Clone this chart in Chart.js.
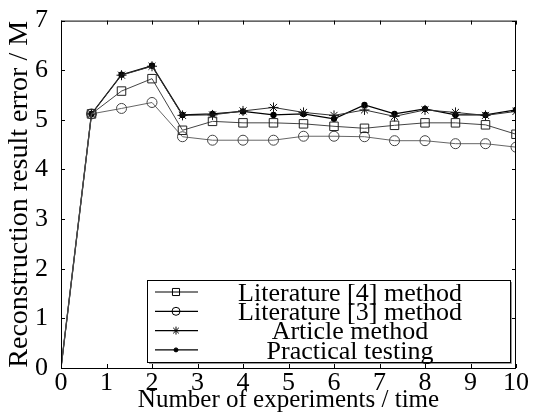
<!DOCTYPE html>
<html>
<head>
<meta charset="utf-8">
<script src="https://cdn.jsdelivr.net/npm/chart.js@4.4.1/dist/chart.umd.min.js"></script>
<style>
  html, body { margin: 0; padding: 0; background: #fff; }
  #wrap { width: 535px; height: 415px; }
</style>
</head>
<body>
<div id="wrap"><canvas id="chart" width="535" height="415"></canvas></div>
<script>
// experiment index (x) and reconstruction error values (y)
var xValues = [0, 0.67, 1.33, 2, 2.67, 3.33, 4, 4.67, 5.33, 6, 6.67, 7.33, 8, 8.67, 9.33, 10];
var lit4 = [0, 5.12, 5.58, 5.83, 4.79, 4.97, 4.94, 4.94, 4.92, 4.87, 4.83, 4.89, 4.94, 4.94, 4.90, 4.71];
var lit3 = [0, 5.12, 5.23, 5.35, 4.66, 4.59, 4.59, 4.59, 4.67, 4.67, 4.66, 4.58, 4.58, 4.52, 4.52, 4.45];
var article = [0, 5.12, 5.90, 6.08, 5.09, 5.10, 5.18, 5.25, 5.15, 5.09, 5.20, 5.07, 5.20, 5.15, 5.09, 5.17];
var practical = [0, 5.12, 5.91, 6.09, 5.10, 5.12, 5.17, 5.10, 5.12, 5.02, 5.30, 5.12, 5.22, 5.10, 5.10, 5.20];
var seriesNames = ['Literature [4] method', 'Literature [3] method', 'Article method', 'Practical testing'];

var serif = "'Liberation Serif', 'Times New Roman', serif";

function pts(ys) {
    return ys.map(function(y, i) { return {x: xValues[i], y: y}; });
}

// no marker on the origin point
function radii(r) {
    return xValues.map(function(x, i) { return i === 0 ? 0 : r; });
}

// inward ticks on all four sides + box + legend inside the plot
var frame = {
    id: 'frame',
    afterDraw: function(chart) {
        var ctx = chart.ctx, a = chart.chartArea,
            xs = chart.scales.x, ys = chart.scales.y, len = 4;
        ctx.save();
        ctx.strokeStyle = '#000';
        ctx.lineWidth = 1;
        ctx.strokeRect(a.left + 0.5, a.top + 0.5, a.right - a.left - 1, a.bottom - a.top);
        ctx.beginPath();
        xs.ticks.forEach(function(t) {
            var px = Math.round(xs.getPixelForValue(t.value)) + 0.5;
            ctx.moveTo(px, a.bottom); ctx.lineTo(px, a.bottom - len);
            ctx.moveTo(px, a.top); ctx.lineTo(px, a.top + len);
        });
        ys.ticks.forEach(function(t) {
            var py = Math.round(ys.getPixelForValue(t.value)) + 0.5;
            ctx.moveTo(a.left, py); ctx.lineTo(a.left + len, py);
            ctx.moveTo(a.right, py); ctx.lineTo(a.right - len, py);
        });
        ctx.stroke();

        // legend box
        var bx = 147, by = 280, bw = 363, bh = 82;
        ctx.fillStyle = '#fff';
        ctx.fillRect(bx, by, bw, bh);
        ctx.strokeStyle = '#000';
        ctx.strokeRect(bx + 0.5, by + 0.5, bw, bh);
        ctx.strokeStyle = '#999';
        ctx.beginPath();
        ctx.moveTo(bx + bw + 1.5, by + 2); ctx.lineTo(bx + bw + 1.5, by + bh + 1.5); ctx.lineTo(bx + 2, by + bh + 1.5);
        ctx.stroke();
        ctx.font = '26px ' + serif;
        ctx.textAlign = 'center';
        ctx.textBaseline = 'middle';
        chart.data.datasets.forEach(function(ds, i) {
            var yy = by + 12 + i * 19.3;
            ctx.strokeStyle = '#000';
            ctx.lineWidth = 1.2;
            ctx.beginPath();
            ctx.moveTo(155, yy); ctx.lineTo(198, yy);
            ctx.stroke();
            ctx.fillStyle = ds.pointBackgroundColor;
            ctx.lineWidth = 1;
            Chart.helpers.drawPoint(ctx, {
                pointStyle: ds.pointStyle,
                radius: ds.legendRadius,
                borderWidth: 1
            }, 176, yy);
            ctx.fillStyle = '#000';
            ctx.fillText(ds.label, 350, yy + 2);
        });
        ctx.restore();
    }
};

new Chart(document.getElementById('chart').getContext('2d'), {
    type: 'line',
    data: {
        datasets: [{
            label: seriesNames[0],
            data: pts(lit4),
            borderColor: '#444',
            pointBorderColor: '#222',
            pointBackgroundColor: 'rgba(0,0,0,0)',
            pointStyle: 'rect',
            pointRadius: radii(6),
            legendRadius: 5,
            borderWidth: 1
        }, {
            label: seriesNames[1],
            data: pts(lit3),
            borderColor: '#666',
            pointBorderColor: '#444',
            pointBackgroundColor: 'rgba(0,0,0,0)',
            pointStyle: 'circle',
            pointRadius: radii(5),
            legendRadius: 4,
            borderWidth: 1
        }, {
            label: seriesNames[2],
            data: pts(article),
            borderColor: '#333',
            pointBorderColor: '#111',
            pointBackgroundColor: 'rgba(0,0,0,0)',
            pointStyle: 'star',
            pointRadius: radii(5),
            legendRadius: 4,
            borderWidth: 1
        }, {
            label: seriesNames[3],
            data: pts(practical),
            borderColor: '#000',
            pointBorderColor: '#000',
            pointBackgroundColor: '#000',
            pointStyle: 'circle',
            pointRadius: radii(2.5),
            legendRadius: 2,
            borderWidth: 1.3
        }]
    },
    options: {
        responsive: false,
        animation: false,
        layout: { padding: { top: 15, right: 19, left: 0, bottom: 0 } },
        elements: { line: { tension: 0 } },
        plugins: { legend: { display: false }, tooltip: { enabled: false } },
        scales: {
            x: {
                type: 'linear',
                min: 0, max: 10,
                ticks: { stepSize: 1, color: '#000', font: { family: serif, size: 26 }, padding: -8, maxRotation: 0 },
                grid: { display: false, drawOnChartArea: false },
                border: { display: false },
                title: { display: true, text: 'Number of experiments / time', color: '#000',
                         font: { family: serif, size: 25 }, padding: { top: 0, bottom: 0 } },
                afterFit: function(s) { s.height = 47; }
            },
            y: {
                min: 0, max: 7,
                ticks: { stepSize: 1, color: '#000', font: { family: serif, size: 26 }, padding: 5 },
                grid: { display: false, drawOnChartArea: false },
                border: { display: false },
                title: { display: true, text: 'Reconstruction result error / M', color: '#000',
                         font: { family: serif, size: 28 }, padding: { top: 3, bottom: 0 } },
                afterFit: function(s) { s.width = 61; }
            }
        }
    },
    plugins: [frame]
});
</script>
</body>
</html>
